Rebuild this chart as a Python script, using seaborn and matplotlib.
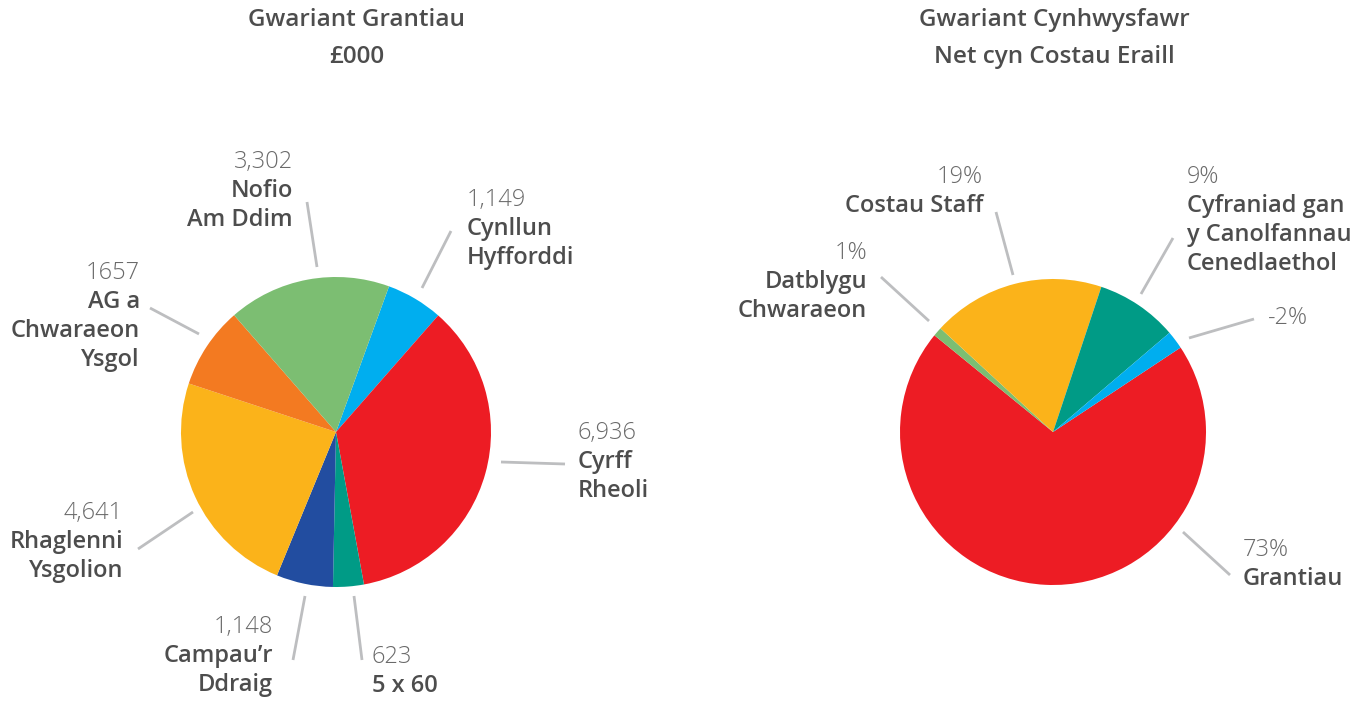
import numpy as np
import matplotlib
matplotlib.use("Agg")
import matplotlib.pyplot as plt
import seaborn as sns

# figure size in pixels (dpi 100)
W, H = 1370, 702

# left pie: grant spend, £000 (clockwise from the top)
grant_labels = ["Cynllun\nHyfforddi", "Cyrff\nRheoli", "5 x 60", "Campau’r\nDdraig",
                "Rhaglenni\nYsgolion", "AG a\nChwaraeon\nYsgol", "Nofio\nAm Ddim"]
grant_values = [1149, 6936, 623, 1148, 4641, 1657, 3302]
grant_value_text = ["1,149", "6,936", "623", "1,148", "4,641", "1657", "3,302"]
grant_colors = ["#00AEEF", "#ED1C24", "#009B86", "#224DA0", "#FBB31A", "#F37A21", "#7CBE72"]

# right pie: core spend net of other costs, %
spend_labels = ["Grantiau", "Datblygu\nChwaraeon", "Costau Staff",
                "Cyfraniad gan\ny Canolfannau\nCenedlaethol", ""]
spend_values = [73, 1, 19, 9, -2]
spend_colors = ["#ED1C24", "#7CBE72", "#FBB31A", "#009B86", "#00AEEF"]

# label layout (pixels): text x, first line y, alignment, leader line
grant_layout = [
    (467, 200, "left", (451, 231, 422, 288)),
    (578, 433, "left", (565, 464, 501, 462)),
    (372, 657, "left", (362, 660, 354, 596)),
    (273, 627, "right", (293, 660, 305, 596)),
    (123, 513, "right", (138, 549, 193, 512)),
    (140, 273, "right", (150, 308, 199, 334)),
    (293, 162, "right", (307, 202, 317, 267)),
]
spend_layout = [
    (1243, 550, "left", (1230, 575, 1183, 532)),
    (867, 253, "right", (881, 277, 929, 321)),
    (983, 177, "right", (996, 212, 1013, 275)),
    (1187, 177, "left", (1173, 238, 1141, 294)),
    (1268, 318, "left", (1254, 319, 1189, 338)),
]

sns.set_theme(style="white")
plt.rcParams['font.family'] = ['Open Sans', 'DejaVu Sans']

TEXT = "#4D4D4D"
NUM = "#6A6A6A"
LINE = "#BDBEC0"
STEP = 29

fig = plt.figure(figsize=(W / 100, H / 100), dpi=100)
ax = fig.add_axes([0, 0, 1, 1])


def Y(py):
    return H - py


def draw_pie(values, colors, center, radius, start):
    ax.pie(np.abs(values), colors=colors, startangle=start, counterclock=False,
           center=(center[0], Y(center[1])), radius=radius,
           wedgeprops=dict(linewidth=0))


def draw_labels(labels, numbers, layout):
    for lab, num, (tx, ty, ha, seg) in zip(labels, numbers, layout):
        x1, y1, x2, y2 = seg
        ax.plot([x1, x2], [Y(y1), Y(y2)], color=LINE, lw=2, solid_capstyle="butt")
        ax.text(tx, Y(ty), num, ha=ha, va="center", fontsize=17,
                fontweight="light", color=NUM)
        for i, line in enumerate([l for l in lab.split("\n") if l]):
            ax.text(tx, Y(ty + STEP * (i + 1)), line, ha=ha, va="center",
                    fontsize=17, fontweight="semibold", color=TEXT)


draw_pie(grant_values, grant_colors, (336, 432), 155, 70)
draw_pie(spend_values, spend_colors, (1053, 432), 153, 33.5)
draw_labels(grant_labels, grant_value_text, grant_layout)
draw_labels(spend_labels, [f"{v}%" for v in spend_values], spend_layout)

# titles
for cx, lines in [(357, ["Gwariant Grantiau", "£000"]),
                  (1054, ["Gwariant Cynhwysfawr", "Net cyn Costau Eraill"])]:
    for i, t in enumerate(lines):
        ax.text(cx, Y(20 + 37 * i), t, ha="center", va="center", fontsize=17.5,
                fontweight="semibold", color=TEXT)

ax.set_xlim(0, W)
ax.set_ylim(0, H)
ax.set_aspect("equal")
ax.axis("off")

fig.savefig("out.png", dpi=100, facecolor="white")
